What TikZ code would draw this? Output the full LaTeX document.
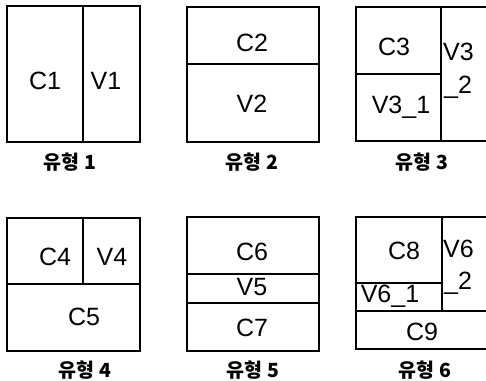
\documentclass[tikz,border=0pt]{standalone}
\usepackage{fontspec}
\setmainfont{Liberation Sans}
\newfontfamily\kofont{Noto Sans CJK KR}[BoldFont={Noto Sans CJK KR Black}]
\tikzset{
  cell/.style={draw=black, line width=1.1pt},
  lbl/.style={font=\fontsize{25}{25}\selectfont, inner sep=0pt},
  typelabel/.style={font=\kofont\bfseries\fontsize{19.5}{19.5}\selectfont, inner sep=0pt, anchor=base, text depth=0pt},
}
\begin{document}
\begin{tikzpicture}[x=1pt,y=-1pt]
\useasboundingbox (0,0) rectangle (486,380);
\clip (0,0) rectangle (486,380);
% type 1
\draw[cell] (7,6) rectangle (140,142) (83,6) -- (83,142);
\node[lbl] (c1) at (45,81) {C1};
\node[lbl] (v1) at (106,81) {V1};
\node[typelabel] (t1) at (70,169) {유형 1};
% type 2
\draw[cell] (187,7) rectangle (319,142) (187,64) -- (319,64);
\node[lbl] (c2) at (252,43) {C2};
\node[lbl] (v2) at (252,104) {V2};
\node[typelabel] (t2) at (252,169) {유형 2};
% type 3
\draw[cell] (356,7) rectangle (495,141) (441,7) -- (441,141) (356,74) -- (441,74);
\node[lbl] (c3) at (394,47) {C3};
\node[lbl] (v31) at (401,107) {V3\_1};
\node[lbl,anchor=west] (v32a) at (443,52) {V3};
\node[lbl,anchor=west] (v32b) at (444,87) {\_2};
\node[typelabel] (t3) at (422,169) {유형 3};
% type 4
\draw[cell] (7,218) rectangle (140,351) (7,284) -- (140,284) (83,218) -- (83,284);
\node[lbl] (c4) at (55,257) {C4};
\node[lbl] (v4) at (112,257) {V4};
\node[lbl] (c5) at (84,317) {C5};
\node[typelabel] (t4) at (85,377) {유형 4};
% type 5
\draw[cell] (187,217) rectangle (319,351) (187,274) -- (319,274) (187,303) -- (319,303);
\node[lbl] (c6) at (252,252) {C6};
\node[lbl] (v5) at (252,287) {V5};
\node[lbl] (c7) at (252,328) {C7};
\node[typelabel] (t5) at (253,377) {유형 5};
% type 6
\draw[cell] (356,217) rectangle (495,349) (442,217) -- (442,311) (356,283) -- (442,283) (356,311) -- (495,311);
\node[lbl] (c8) at (404,251) {C8};
\node[lbl] (v61) at (390,296) {V6\_1};
\node[lbl,anchor=west] (v62a) at (443,249) {V6};
\node[lbl,anchor=west] (v62b) at (444,283) {\_2};
\node[lbl] (c9) at (422,332) {C9};
\node[typelabel] (t6) at (425,377) {유형 6};
\end{tikzpicture}
\end{document}
